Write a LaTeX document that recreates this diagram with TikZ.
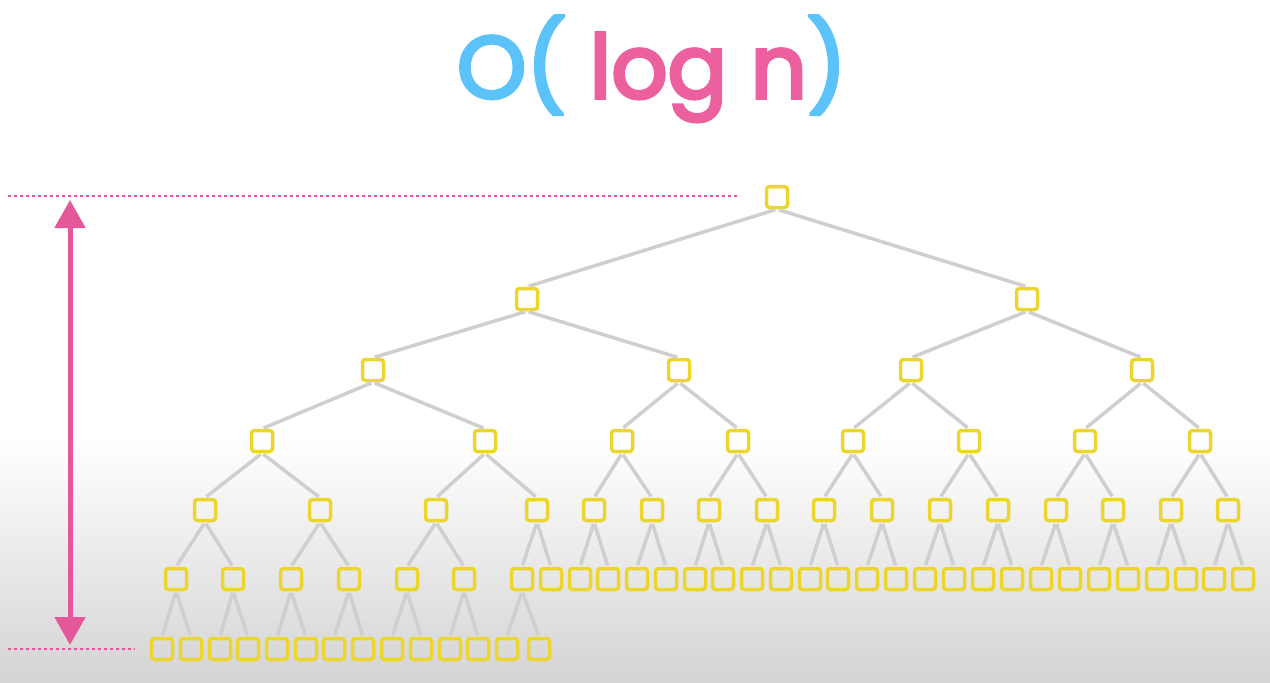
\documentclass[tikz,border=0pt]{standalone}
\usepackage{fontspec}
\usepackage{xcolor}
\usetikzlibrary{arrows.meta}
\newfontfamily\titlefont[FakeBold=4]{Poppins}
\definecolor{boxyellow}{RGB}{236,214,45}
\definecolor{edgegray}{RGB}{207,207,207}
\definecolor{pinkline}{RGB}{228,88,154}
\definecolor{titlepink}{RGB}{236,96,160}
\definecolor{titleblue}{RGB}{92,194,250}

\begin{document}
\begin{tikzpicture}[x=1pt,y=-1pt,
	box/.style={draw=boxyellow,line width=3.5pt,rounded corners=3pt,minimum size=21pt,inner sep=0pt},
	edge/.style={draw=edgegray,line width=3.5pt,shorten <=1.75pt,shorten >=1.75pt},
	dotline/.style={draw=pinkline,line width=2.5pt,dash pattern=on 2.5pt off 3.5pt},
	height/.style={draw=pinkline,line width=5pt,{Triangle[width=30pt,length=28pt]}-{Triangle[width=30pt,length=28pt]}}]
			% Vẽ nền
			\fill[white] (0,0) rectangle (1270,683);
			\shade[top color=white,bottom color=black!17] (0,440) rectangle (1270,683);
			% Tiêu đề
			\node[anchor=base,inner sep=0pt] (title) at (652,98) {\titlefont\fontsize{88}{88}\selectfont\color{titleblue}O( \color{titlepink}log n\color{titleblue})};
			% Vẽ các nút
			\foreach \x[count=\i] in {777}
			\node[box] (n0-\i) at (\x,197) {};
			\foreach \x[count=\i] in {527,1027}
			\node[box] (n1-\i) at (\x,299) {};
			\foreach \x[count=\i] in {373,679,911,1142}
			\node[box] (n2-\i) at (\x,370) {};
			\foreach \x[count=\i] in {262,485,622,738,853,969,1085,1200}
			\node[box] (n3-\i) at (\x,441) {};
			\foreach \x[count=\i] in {205,320,436,537,594,652,709,767,824,882,940,998,1056,1113,1171,1228}
			\node[box] (n4-\i) at (\x,510) {};
			\foreach \x[count=\i] in {176,233,291,349,407,464,522,551,580,608,637,666,695,723,752,781,810,838,867,896,925,954,983,1012,1041,1070,1099,1128,1157,1186,1214,1243}
			\node[box] (n5-\i) at (\x,579) {};
			\foreach \x[count=\i] in {162,191,220,248,277,306,334,363,392,421,450,478,507,539}
			\node[box] (n6-\i) at (\x,649) {};
			% Vẽ các cạnh
			\foreach \l/\m/\n in {0/1/1,1/2/2,2/3/4,3/4/8,4/5/16,5/6/7}
			\foreach \i in {1,...,\n}
			{\pgfmathtruncatemacro\ca{2*\i-1}
			\pgfmathtruncatemacro\cb{2*\i}
			\draw[edge] (n\l-\i.south) -- (n\m-\ca.north);
			\draw[edge] (n\l-\i.south) -- (n\m-\cb.north);}
			% Vẽ chiều cao
			\draw[dotline] (8,196) -- (740,196);
			\draw[dotline] (8,649) -- (135,649);
			\coordinate (htop) at (70,200);
			\coordinate (hbot) at (70,645);
			\draw[height] (htop) -- (hbot);
\end{tikzpicture}
\end{document}
